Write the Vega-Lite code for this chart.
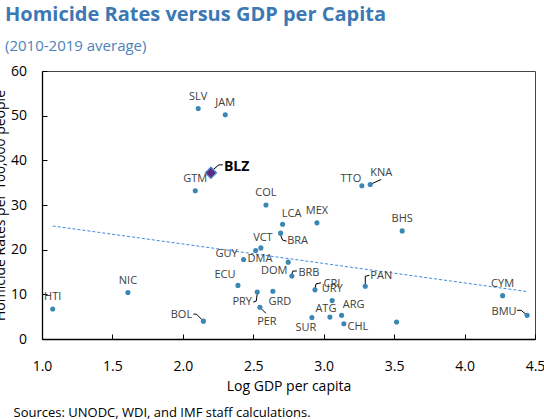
{
  "$schema": "https://vega.github.io/schema/vega-lite/v6.json",
  "width": 493,
  "height": 268,
  "autosize": "none",
  "padding": {"left": 42, "top": 71, "right": 9, "bottom": 81},
  "background": "white",
  "title": {
    "text": "Homicide Rates versus GDP per Capita",
    "subtitle": "(2010-2019 average)",
    "anchor": "start",
    "dx": 12,
    "offset": 10,
    "font": "Open Sans",
    "fontSize": 20,
    "fontWeight": "bold",
    "color": "#3b78b4",
    "subtitleFont": "Open Sans",
    "subtitleFontSize": 15,
    "subtitleColor": "#4a82bb",
    "subtitlePadding": 14
  },
  "datasets": {
    "pts": [
      {"c": "SLV", "x": 2.109, "y": 51.6},
      {"c": "JAM", "x": 2.301, "y": 50.2},
      {"c": "BLZ", "x": 2.199, "y": 37.2},
      {"c": "GTM", "x": 2.088, "y": 33.2},
      {"c": "COL", "x": 2.59, "y": 30.0},
      {"c": "TTO", "x": 3.271, "y": 34.3},
      {"c": "KNA", "x": 3.33, "y": 34.6},
      {"c": "LCA", "x": 2.708, "y": 25.7},
      {"c": "MEX", "x": 2.952, "y": 26.0},
      {"c": "BHS", "x": 3.557, "y": 24.2},
      {"c": "BRA", "x": 2.694, "y": 23.7},
      {"c": "VCT", "x": 2.554, "y": 20.4},
      {"c": "GUY", "x": 2.517, "y": 19.8},
      {"c": "DMA", "x": 2.431, "y": 17.8},
      {"c": "DOM", "x": 2.748, "y": 17.2},
      {"c": "ECU", "x": 2.391, "y": 12.0},
      {"c": "BRB", "x": 2.774, "y": 14.1},
      {"c": "NIC", "x": 1.61, "y": 10.4},
      {"c": "HTI", "x": 1.076, "y": 6.7},
      {"c": "PRY", "x": 2.528, "y": 10.5},
      {"c": "GRD", "x": 2.639, "y": 10.7},
      {"c": "PER", "x": 2.547, "y": 7.1},
      {"c": "BOL", "x": 2.146, "y": 4.0},
      {"c": "CRI", "x": 2.938, "y": 11.0},
      {"c": "URY", "x": 3.06, "y": 8.6},
      {"c": "PAN", "x": 3.295, "y": 11.8},
      {"c": "ATG", "x": 3.044, "y": 4.9},
      {"c": "ARG", "x": 3.127, "y": 5.3},
      {"c": "SUR", "x": 2.916, "y": 4.8},
      {"c": "CHL", "x": 3.143, "y": 3.4},
      {"c": "", "x": 3.517, "y": 3.8},
      {"c": "CYM", "x": 4.27, "y": 9.7},
      {"c": "BMU", "x": 4.444, "y": 5.3}
    ],
    "trend": [
      {"x": 1.076, "y": 25.3},
      {"x": 4.437, "y": 10.65}
    ]
  },
  "layer": [
    {
      "data": {"name": "trend"},
      "mark": {"type": "line", "color": "#3f8ae0", "strokeWidth": 1, "strokeDash": [3, 2]},
      "encoding": {
        "x": {"field": "x", "type": "quantitative", "scale": {"domain": [1, 4.5], "nice": false, "zero": false}},
        "y": {
          "field": "y", "type": "quantitative",
          "scale": {"domain": [0, 60], "nice": false},
          "axis": {
            "orient": "right",
            "title": "Sources: UNODC, WDI, and IMF staff calculations.",
            "labels": false, "ticks": false, "domain": false, "grid": false,
            "titleAngle": 0, "titleX": -522, "titleY": 345,
            "titleAlign": "left", "titleBaseline": "alphabetic",
            "titleFontSize": 13, "titleColor": "#000", "titleFontWeight": "normal"
          }
        }
      }
    },
    {
      "data": {"name": "pts"},
      "encoding": {
        "x": {
          "field": "x", "type": "quantitative",
          "scale": {"domain": [1, 4.5], "nice": false, "zero": false},
          "axis": {
            "values": [1, 1.5, 2, 2.5, 3, 3.5, 4, 4.5],
            "format": ".1f",
            "labelFontSize": 14,
            "labelFlush": false,
            "tickSize": -5,
            "labelPadding": 25,
            "domainWidth": 1.3,
            "title": "Log GDP per capita",
            "titleFontSize": 14,
            "titleY": 51,
            "titleBaseline": "alphabetic"
          }
        },
        "y": {
          "field": "y", "type": "quantitative",
          "scale": {"domain": [0, 60], "nice": false},
          "axis": {
            "values": [0, 10, 20, 30, 40, 50, 60],
            "labelFontSize": 14,
            "labelFlush": false,
            "tickSize": -5,
            "labelPadding": 20.5,
            "domainWidth": 1.3,
            "title": "Homicide Rates per 100,000 people",
            "titleFontSize": 14,
            "titleX": -38,
            "titleY": 134,
            "titleBaseline": "alphabetic"
          }
        }
      },
      "layer": [
        {"transform": [{"filter": "datum.c=='BLZ'"}], "mark": {"type": "rule", "xOffset": 2, "yOffset": -3, "x2Offset": 8, "y2Offset": -8, "color": "#000"}, "encoding": {"x2": {"field": "x"}, "y2": {"field": "y"}}},
        {"transform": [{"filter": "datum.c=='BLZ'"}], "mark": {"type": "rule", "xOffset": 8, "yOffset": -8, "x2Offset": 12, "y2Offset": -8, "color": "#000"}, "encoding": {"x2": {"field": "x"}, "y2": {"field": "y"}}},
        {"transform": [{"filter": "datum.c=='KNA'"}], "mark": {"type": "rule", "xOffset": 0, "yOffset": 0, "x2Offset": 11, "y2Offset": -5, "color": "#000"}, "encoding": {"x2": {"field": "x"}, "y2": {"field": "y"}}},
        {"transform": [{"filter": "datum.c=='BRA'"}], "mark": {"type": "rule", "xOffset": 0, "yOffset": 2, "x2Offset": 2, "y2Offset": 7, "color": "#000"}, "encoding": {"x2": {"field": "x"}, "y2": {"field": "y"}}},
        {"transform": [{"filter": "datum.c=='BRA'"}], "mark": {"type": "rule", "xOffset": 2, "yOffset": 7, "x2Offset": 6, "y2Offset": 8, "color": "#000"}, "encoding": {"x2": {"field": "x"}, "y2": {"field": "y"}}},
        {"transform": [{"filter": "datum.c=='BRB'"}], "mark": {"type": "rule", "xOffset": 0, "yOffset": -2, "x2Offset": 1, "y2Offset": -5, "color": "#000"}, "encoding": {"x2": {"field": "x"}, "y2": {"field": "y"}}},
        {"transform": [{"filter": "datum.c=='BRB'"}], "mark": {"type": "rule", "xOffset": 1, "yOffset": -5, "x2Offset": 5, "y2Offset": -5, "color": "#000"}, "encoding": {"x2": {"field": "x"}, "y2": {"field": "y"}}},
        {"transform": [{"filter": "datum.c=='PRY'"}], "mark": {"type": "rule", "xOffset": 0, "yOffset": 2, "x2Offset": -1, "y2Offset": 9, "color": "#000"}, "encoding": {"x2": {"field": "x"}, "y2": {"field": "y"}}},
        {"transform": [{"filter": "datum.c=='PRY'"}], "mark": {"type": "rule", "xOffset": -1, "yOffset": 9, "x2Offset": -4, "y2Offset": 10, "color": "#000"}, "encoding": {"x2": {"field": "x"}, "y2": {"field": "y"}}},
        {"transform": [{"filter": "datum.c=='PER'"}], "mark": {"type": "rule", "xOffset": 0, "yOffset": 0, "x2Offset": 6, "y2Offset": 6, "color": "#000"}, "encoding": {"x2": {"field": "x"}, "y2": {"field": "y"}}},
        {"transform": [{"filter": "datum.c=='BOL'"}], "mark": {"type": "rule", "xOffset": 0, "yOffset": 0, "x2Offset": -7, "y2Offset": -7, "color": "#000"}, "encoding": {"x2": {"field": "x"}, "y2": {"field": "y"}}},
        {"transform": [{"filter": "datum.c=='BOL'"}], "mark": {"type": "rule", "xOffset": -7, "yOffset": -7, "x2Offset": -10, "y2Offset": -7, "color": "#000"}, "encoding": {"x2": {"field": "x"}, "y2": {"field": "y"}}},
        {"transform": [{"filter": "datum.c=='CRI'"}], "mark": {"type": "rule", "xOffset": 0, "yOffset": -1, "x2Offset": 1, "y2Offset": -6, "color": "#000"}, "encoding": {"x2": {"field": "x"}, "y2": {"field": "y"}}},
        {"transform": [{"filter": "datum.c=='CRI'"}], "mark": {"type": "rule", "xOffset": 1, "yOffset": -6, "x2Offset": 6, "y2Offset": -7, "color": "#000"}, "encoding": {"x2": {"field": "x"}, "y2": {"field": "y"}}},
        {"transform": [{"filter": "datum.c=='PAN'"}], "mark": {"type": "rule", "xOffset": 0, "yOffset": -1, "x2Offset": 0, "y2Offset": -10, "color": "#000"}, "encoding": {"x2": {"field": "x"}, "y2": {"field": "y"}}},
        {"transform": [{"filter": "datum.c=='PAN'"}], "mark": {"type": "rule", "xOffset": 0, "yOffset": -10, "x2Offset": 4, "y2Offset": -11, "color": "#000"}, "encoding": {"x2": {"field": "x"}, "y2": {"field": "y"}}},
        {"transform": [{"filter": "datum.c=='BMU'"}], "mark": {"type": "rule", "xOffset": 0, "yOffset": 0, "x2Offset": -6, "y2Offset": -5, "color": "#000"}, "encoding": {"x2": {"field": "x"}, "y2": {"field": "y"}}},
        {"transform": [{"filter": "datum.c=='BMU'"}], "mark": {"type": "rule", "xOffset": -6, "yOffset": -5, "x2Offset": -10, "y2Offset": -5, "color": "#000"}, "encoding": {"x2": {"field": "x"}, "y2": {"field": "y"}}},
        {"transform": [{"filter": "datum.c!='BLZ'"}], "mark": {"type": "circle", "size": 26, "color": "#3a86b4", "opacity": 1}},
        {"transform": [{"filter": "datum.c=='BLZ'"}], "mark": {"type": "point", "shape": "diamond", "size": 125, "filled": true, "fill": "#5b2c86", "stroke": "#4a86c4", "strokeWidth": 1.3, "opacity": 1}},
        {"transform": [{"filter": {"field": "c", "oneOf": ["SLV", "JAM", "GTM", "COL", "MEX", "BHS", "NIC", "HTI", "CYM", "URY"]}}], "mark": {"type": "text", "dy": -12}, "encoding": {"text": {"field": "c"}}},
        {"transform": [{"filter": "datum.c=='VCT'"}], "mark": {"type": "text", "dx": 2, "dy": -10}, "encoding": {"text": {"field": "c"}}},
        {"transform": [{"filter": "datum.c=='TTO'"}], "mark": {"type": "text", "dx": -11, "dy": -7}, "encoding": {"text": {"field": "c"}}},
        {"transform": [{"filter": "datum.c=='KNA'"}], "mark": {"type": "text", "dx": 11, "dy": -11}, "encoding": {"text": {"field": "c"}}},
        {"transform": [{"filter": "datum.c=='LCA'"}], "mark": {"type": "text", "dx": 9, "dy": -10}, "encoding": {"text": {"field": "c"}}},
        {"transform": [{"filter": "datum.c=='BRA'"}], "mark": {"type": "text", "dx": 17, "dy": 8}, "encoding": {"text": {"field": "c"}}},
        {"transform": [{"filter": "datum.c=='GUY'"}], "mark": {"type": "text", "align": "right", "dx": -18, "dy": 3}, "encoding": {"text": {"field": "c"}}},
        {"transform": [{"filter": "datum.c=='DMA'"}], "mark": {"type": "text", "align": "left", "dx": 4, "dy": 0}, "encoding": {"text": {"field": "c"}}},
        {"transform": [{"filter": "datum.c=='DOM'"}], "mark": {"type": "text", "dx": -14, "dy": 9}, "encoding": {"text": {"field": "c"}}},
        {"transform": [{"filter": "datum.c=='ECU'"}], "mark": {"type": "text", "dx": -13, "dy": -10}, "encoding": {"text": {"field": "c"}}},
        {"transform": [{"filter": "datum.c=='BRB'"}], "mark": {"type": "text", "dx": 17, "dy": -3}, "encoding": {"text": {"field": "c"}}},
        {"transform": [{"filter": "datum.c=='PRY'"}], "mark": {"type": "text", "dx": -15, "dy": 10}, "encoding": {"text": {"field": "c"}}},
        {"transform": [{"filter": "datum.c=='GRD'"}], "mark": {"type": "text", "dx": 7, "dy": 11}, "encoding": {"text": {"field": "c"}}},
        {"transform": [{"filter": "datum.c=='PER'"}], "mark": {"type": "text", "dx": 7, "dy": 15}, "encoding": {"text": {"field": "c"}}},
        {"transform": [{"filter": "datum.c=='BOL'"}], "mark": {"type": "text", "dx": -22, "dy": -6}, "encoding": {"text": {"field": "c"}}},
        {"transform": [{"filter": "datum.c=='CRI'"}], "mark": {"type": "text", "dx": 17, "dy": -6}, "encoding": {"text": {"field": "c"}}},
        {"transform": [{"filter": "datum.c=='PAN'"}], "mark": {"type": "text", "dx": 16, "dy": -10}, "encoding": {"text": {"field": "c"}}},
        {"transform": [{"filter": "datum.c=='ATG'"}], "mark": {"type": "text", "dx": -4, "dy": -8}, "encoding": {"text": {"field": "c"}}},
        {"transform": [{"filter": "datum.c=='ARG'"}], "mark": {"type": "text", "dx": 12, "dy": -10}, "encoding": {"text": {"field": "c"}}},
        {"transform": [{"filter": "datum.c=='SUR'"}], "mark": {"type": "text", "dx": -6, "dy": 10}, "encoding": {"text": {"field": "c"}}},
        {"transform": [{"filter": "datum.c=='CHL'"}], "mark": {"type": "text", "dx": 14, "dy": 3}, "encoding": {"text": {"field": "c"}}},
        {"transform": [{"filter": "datum.c=='BMU'"}], "mark": {"type": "text", "dx": -23, "dy": -3}, "encoding": {"text": {"field": "c"}}},
        {"transform": [{"filter": "datum.c=='BLZ'"}], "mark": {"type": "text", "align": "left", "dx": 13, "dy": -6, "fontSize": 14, "fontWeight": "bold", "color": "#000"}, "encoding": {"text": {"field": "c"}}}
      ]
    }
  ],
  "resolve": {"axis": {"y": "independent"}},
  "config": {
    "view": {"stroke": "#444", "strokeWidth": 1},
    "axis": {
      "labelFont": "Open Sans",
      "titleFont": "Open Sans",
      "labelColor": "#000",
      "titleColor": "#000",
      "domainColor": "#000",
      "tickColor": "#000",
      "grid": false,
      "titleFontWeight": "normal"
    },
    "text": {"font": "Open Sans", "fontSize": 11, "color": "#404040", "baseline": "middle"}
  }
}
